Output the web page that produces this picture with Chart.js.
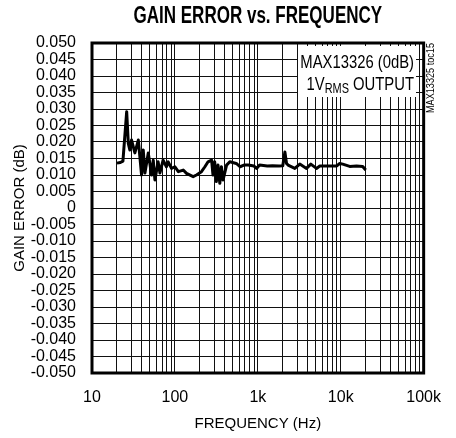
<!DOCTYPE html>
<html>
<head>
<meta charset="utf-8">
<script src="https://cdn.jsdelivr.net/npm/chart.js@4.4.0/dist/chart.umd.min.js"></script>
<style>
  html, body { margin: 0; padding: 0; background: #fff; }
  #wrap { width: 456px; height: 438px; }
</style>
</head>
<body>
<div id="wrap"><canvas id="gainChart" width="456" height="438"></canvas></div>
<script>
// frequency (Hz) and gain error (dB)
const freqHz = [20, 22, 23.6, 26.2, 27.4, 28.6, 30, 32.9, 36.2, 39.6, 41.5, 43.5, 47.7, 52.3, 54.8, 57.4,
  62.7, 66, 72, 79, 83, 91, 100, 110, 126, 138, 166, 182, 209, 230, 251, 277, 288, 302, 316, 331, 348,
  364, 381, 420, 459, 550, 610, 680, 764, 900, 966, 1050, 1300, 1500, 1800, 2000, 2120, 2220, 2317,
  2793, 3206, 3863, 4357, 5097, 5587, 7365, 8868, 9730, 10570, 12830, 15500, 18400, 20000];
const gainErr = [0.0136, 0.0138, 0.0142, 0.0292, 0.0196, 0.0176, 0.0206, 0.0167, 0.0206, 0.0100, 0.0176,
  0.0106, 0.0167, 0.0100, 0.0145, 0.0085, 0.0140, 0.0106, 0.0145, 0.0125, 0.0140, 0.0120, 0.0125, 0.0110,
  0.0115, 0.0105, 0.0095, 0.0100, 0.0110, 0.0125, 0.0140, 0.0145, 0.0100, 0.0140, 0.0080, 0.0130, 0.0075,
  0.0125, 0.0085, 0.0130, 0.0140, 0.0135, 0.0125, 0.0130, 0.0130, 0.0127, 0.0120, 0.0130, 0.0127, 0.0128,
  0.0127, 0.0128, 0.0170, 0.0135, 0.0130, 0.0120, 0.0133, 0.0120, 0.0133, 0.0120, 0.0127, 0.0127, 0.0127,
  0.0135, 0.0133, 0.0126, 0.0127, 0.0126, 0.0115];

// axis ticks
const decades = [10, 100, 1000, 10000, 100000];
const decadeLabels = ['10', '100', '1k', '10k', '100k'];
const yMin = -0.05, yMax = 0.05, yStep = 0.005;

const gridFreqs = [];
for (let d = 0; d < decades.length - 1; d++) {
  for (let m = 1; m <= 9; m++) gridFreqs.push(decades[d] * m);
}
gridFreqs.push(decades[decades.length - 1]);

const FONT = "'Liberation Sans', Arial, sans-serif";

// squeezed text, to get the narrow look of the original lettering
function narrowText(ctx, text, x, y, font, sx, align) {
  ctx.save();
  ctx.font = font;
  ctx.textAlign = align || 'left';
  ctx.translate(x, y);
  ctx.scale(sx, 1);
  ctx.fillText(text, 0, 0);
  ctx.restore();
  ctx.font = font;
  return ctx.measureText(text).width * sx;
}

// title, note box, side tag and heavy frame
const extras = {
  id: 'extras',
  afterDatasetsDraw(chart) {
    const ctx = chart.ctx;
    const a = chart.chartArea;
    ctx.save();
    ctx.textBaseline = 'middle';

    // note box
    ctx.fillStyle = '#fff';
    ctx.fillRect(298, a.top + 3, 118, 51);
    ctx.fillStyle = '#000';
    const sx = 0.78;
    const big = '19px ' + FONT, small = '14px ' + FONT;
    narrowText(ctx, 'MAX13326 (0dB)', 414, 63, big, sx, 'right');
    // 1V(RMS) OUTPUT with subscript
    ctx.font = big;
    const w1 = ctx.measureText('1V').width * sx;
    const w3 = ctx.measureText(' OUTPUT').width * sx;
    ctx.font = small;
    const w2 = ctx.measureText('RMS').width * sx;
    const x = 414 - (w1 + w2 + w3);
    narrowText(ctx, '1V', x, 85, big, sx);
    narrowText(ctx, 'RMS', x + w1, 89, small, sx);
    narrowText(ctx, ' OUTPUT', x + w1 + w2, 85, big, sx);

    // frame
    ctx.strokeStyle = '#000';
    ctx.lineWidth = 3;
    ctx.strokeRect(a.left, a.top, a.right - a.left, a.bottom - a.top);

    // title
    narrowText(ctx, 'GAIN ERROR vs. FREQUENCY', (a.left + a.right) / 2, 17,
      'bold 23px ' + FONT, 0.74, 'center');

    // side tag
    ctx.translate(431, 78);
    ctx.rotate(-Math.PI / 2);
    narrowText(ctx, 'MAX13325 toc15', 0, 0, '11px ' + FONT, 0.83, 'center');
    ctx.restore();
  }
};

const ctx = document.getElementById('gainChart').getContext('2d');
const gainChart = new Chart(ctx, {
  type: 'line',
  data: {
    datasets: [{
      data: freqHz.map((f, i) => ({ x: f, y: gainErr[i] })),
      borderColor: '#000',
      borderWidth: 3,
      borderJoinStyle: 'round',
      pointRadius: 0,
      tension: 0,
      fill: false
    }]
  },
  options: {
    responsive: false,
    animation: false,
    layout: { padding: { top: 43, right: 32, left: 0, bottom: 0 } },
    plugins: {
      legend: { display: false },
      tooltip: { enabled: false }
    },
    scales: {
      x: {
        type: 'logarithmic',
        min: decades[0],
        max: decades[decades.length - 1],
        afterBuildTicks: scale => { scale.ticks = gridFreqs.map(v => ({ value: v })); },
        afterFit: scale => { scale.height = 65; },
        grid: { color: '#111', lineWidth: 1, drawTicks: false },
        border: { display: false },
        ticks: {
          autoSkip: false,
          maxRotation: 0,
          padding: 15,
          color: '#000',
          font: { family: FONT, size: 16 },
          callback: v => {
            const i = decades.indexOf(v);
            return i >= 0 ? decadeLabels[i] : '';
          }
        },
        title: {
          display: true,
          text: 'FREQUENCY (Hz)',
          color: '#000',
          font: { family: FONT, size: 15 },
          padding: { top: 0, bottom: 5 }
        }
      },
      y: {
        min: yMin,
        max: yMax,
        afterFit: scale => { scale.width = 92; },
        grid: { color: '#111', lineWidth: 1, drawTicks: false },
        border: { display: false },
        ticks: {
          stepSize: yStep,
          autoSkip: false,
          maxTicksLimit: 50,
          padding: 16,
          color: '#000',
          font: { family: FONT, size: 16 },
          callback: v => Math.abs(v) < 1e-9 ? '0' : v.toFixed(3)
        },
        title: {
          display: true,
          text: 'GAIN ERROR (dB)',
          color: '#000',
          font: { family: FONT, size: 15 },
          padding: { top: 11, bottom: 0 }
        }
      }
    }
  },
  plugins: [extras]
});
</script>
</body>
</html>
